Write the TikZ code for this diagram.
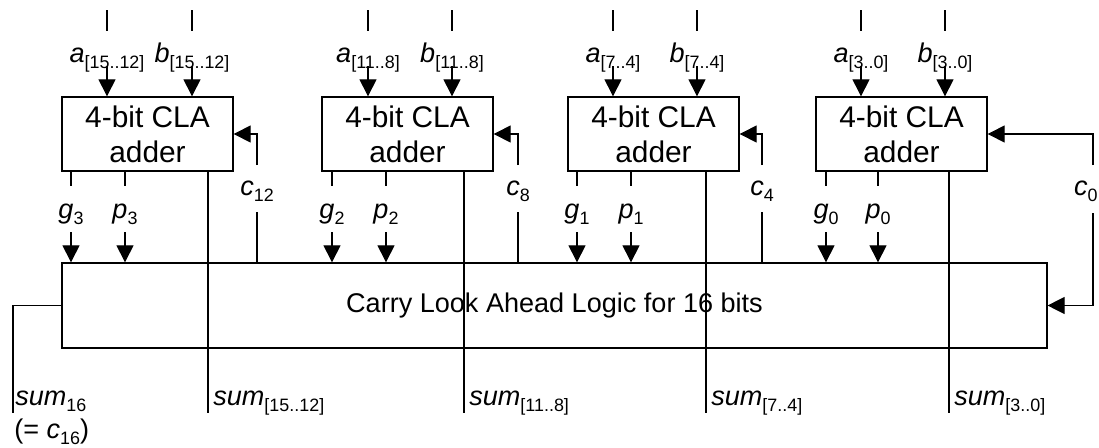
\documentclass[tikz,border=0pt]{standalone}
\usepackage{fontspec}
\setmainfont{Liberation Sans}
\usetikzlibrary{arrows.meta,calc}
% signal name with a lowered index
\newcommand{\sig}[2]{\textit{#1}\raisebox{-0.13cm}{\fontsize{10.2}{12}\selectfont #2}}

\begin{document}
\begin{tikzpicture}[x=0.02cm,y=-0.02cm,
  adder/.style={draw,line width=0.75pt,minimum width=3.42cm,minimum height=1.48cm,inner sep=0,align=center,font=\fontsize{17}{19.9}\selectfont},
  cla/.style={draw,line width=0.75pt,minimum width=19.7cm,minimum height=1.7cm,inner sep=0,font=\fontsize{15.4}{20}\selectfont},
  lbl/.style={inner sep=0,font=\fontsize{15.4}{20}\selectfont},
  wire/.style={line width=0.6pt},
  arr/.style={wire,-{Triangle[length=0.34cm,width=0.34cm]}}]
  \useasboundingbox (0,0) rectangle (1099,447);
  % Carry look ahead logic
  \node[cla] (cla) at (554.5,305.5) {Carry Look Ahead Logic for 16 bits};
  % Adder for bits 15..12
  \node[adder] (add3) at (147.5,134) {4-bit CLA\\adder};
  \node[lbl,anchor=base] (a3) at (107,62) {\sig{a}{[15..12]}};
  \node[lbl,anchor=base] (b3) at (192,62) {\sig{b}{[15..12]}};
  \draw[wire] (a3.base) ++(0,-52) -- ++(0,21);
  \draw[wire] (b3.base) ++(0,-52) -- ++(0,21);
  \draw[arr] (a3.base) ++(0,4) -- (a3.base |- add3.north);
  \draw[arr] (b3.base) ++(0,4) -- (b3.base |- add3.north);
  \node[lbl,anchor=base] (g3) at (71,218) {\sig{g}{3}};
  \node[lbl,anchor=base] (p3) at (125,218) {\sig{p}{3}};
  \draw[wire] (g3.base |- add3.south) -- ++(0,14);
  \draw[wire] (p3.base |- add3.south) -- ++(0,14);
  \draw[arr] (g3.base) ++(0,14) -- (g3.base |- cla.north);
  \draw[arr] (p3.base) ++(0,14) -- (p3.base |- cla.north);
  \node[lbl,anchor=base] (c12) at (257,195) {\sig{c}{12}};
  \draw[wire] (c12.base |- cla.north) -- ++(0,-50);
  \draw[arr] (c12.base) ++(0,-30) |- (add3.east);
  \coordinate (s3) at (208,413);
  \draw[wire] (s3 |- add3.south) -- (s3);
  \node[lbl,anchor=base west] (sum3) at (213,405) {\sig{sum}{[15..12]}};
  % Adder for bits 11..8
  \node[adder] (add2) at (407.5,134) {4-bit CLA\\adder};
  \node[lbl,anchor=base] (a2) at (368,62) {\sig{a}{[11..8]}};
  \node[lbl,anchor=base] (b2) at (452,62) {\sig{b}{[11..8]}};
  \draw[wire] (a2.base) ++(0,-52) -- ++(0,21);
  \draw[wire] (b2.base) ++(0,-52) -- ++(0,21);
  \draw[arr] (a2.base) ++(0,4) -- (a2.base |- add2.north);
  \draw[arr] (b2.base) ++(0,4) -- (b2.base |- add2.north);
  \node[lbl,anchor=base] (g2) at (332,218) {\sig{g}{2}};
  \node[lbl,anchor=base] (p2) at (386,218) {\sig{p}{2}};
  \draw[wire] (g2.base |- add2.south) -- ++(0,14);
  \draw[wire] (p2.base |- add2.south) -- ++(0,14);
  \draw[arr] (g2.base) ++(0,14) -- (g2.base |- cla.north);
  \draw[arr] (p2.base) ++(0,14) -- (p2.base |- cla.north);
  \node[lbl,anchor=base] (c8) at (518,195) {\sig{c}{8}};
  \draw[wire] (c8.base |- cla.north) -- ++(0,-50);
  \draw[arr] (c8.base) ++(0,-30) |- (add2.east);
  \coordinate (s2) at (464,413);
  \draw[wire] (s2 |- add2.south) -- (s2);
  \node[lbl,anchor=base west] (sum2) at (469,405) {\sig{sum}{[11..8]}};
  % Adder for bits 7..4
  \node[adder] (add1) at (653.5,134) {4-bit CLA\\adder};
  \node[lbl,anchor=base] (a1) at (613,62) {\sig{a}{[7..4]}};
  \node[lbl,anchor=base] (b1) at (697,62) {\sig{b}{[7..4]}};
  \draw[wire] (a1.base) ++(0,-52) -- ++(0,21);
  \draw[wire] (b1.base) ++(0,-52) -- ++(0,21);
  \draw[arr] (a1.base) ++(0,4) -- (a1.base |- add1.north);
  \draw[arr] (b1.base) ++(0,4) -- (b1.base |- add1.north);
  \node[lbl,anchor=base] (g1) at (577,218) {\sig{g}{1}};
  \node[lbl,anchor=base] (p1) at (631,218) {\sig{p}{1}};
  \draw[wire] (g1.base |- add1.south) -- ++(0,14);
  \draw[wire] (p1.base |- add1.south) -- ++(0,14);
  \draw[arr] (g1.base) ++(0,14) -- (g1.base |- cla.north);
  \draw[arr] (p1.base) ++(0,14) -- (p1.base |- cla.north);
  \node[lbl,anchor=base] (c4) at (762,195) {\sig{c}{4}};
  \draw[wire] (c4.base |- cla.north) -- ++(0,-50);
  \draw[arr] (c4.base) ++(0,-30) |- (add1.east);
  \coordinate (s1) at (706,413);
  \draw[wire] (s1 |- add1.south) -- (s1);
  \node[lbl,anchor=base west] (sum1) at (711,405) {\sig{sum}{[7..4]}};
  % Adder for bits 3..0
  \node[adder] (add0) at (901.5,134) {4-bit CLA\\adder};
  \node[lbl,anchor=base] (a0) at (861,62) {\sig{a}{[3..0]}};
  \node[lbl,anchor=base] (b0) at (945,62) {\sig{b}{[3..0]}};
  \draw[wire] (a0.base) ++(0,-52) -- ++(0,21);
  \draw[wire] (b0.base) ++(0,-52) -- ++(0,21);
  \draw[arr] (a0.base) ++(0,4) -- (a0.base |- add0.north);
  \draw[arr] (b0.base) ++(0,4) -- (b0.base |- add0.north);
  \node[lbl,anchor=base] (g0) at (826,218) {\sig{g}{0}};
  \node[lbl,anchor=base] (p0) at (878,218) {\sig{p}{0}};
  \draw[wire] (g0.base |- add0.south) -- ++(0,14);
  \draw[wire] (p0.base |- add0.south) -- ++(0,14);
  \draw[arr] (g0.base) ++(0,14) -- (g0.base |- cla.north);
  \draw[arr] (p0.base) ++(0,14) -- (p0.base |- cla.north);
  \coordinate (s0) at (949,413);
  \draw[wire] (s0 |- add0.south) -- (s0);
  \node[lbl,anchor=base west] (sum0) at (954,405) {\sig{sum}{[3..0]}};
  % Carry in
  \coordinate (cin) at (1093,195);
  \node[lbl,anchor=base east] (c0) at (1098,195) {\sig{c}{0}};
  \draw[arr] (cin) ++(0,-30) |- (add0.east);
  \draw[arr] (cin) ++(0,18) |- (cla.east);
  % Carry out
  \coordinate (s16) at (13,413);
  \draw[wire] (cla.west) -| (s16);
  \node[lbl,anchor=base west] (sum16) at (15,405) {\sig{sum}{16}};
  \node[lbl,anchor=base west] (c16) at (14,438) {(= \sig{c}{16})};
\end{tikzpicture}
\end{document}
